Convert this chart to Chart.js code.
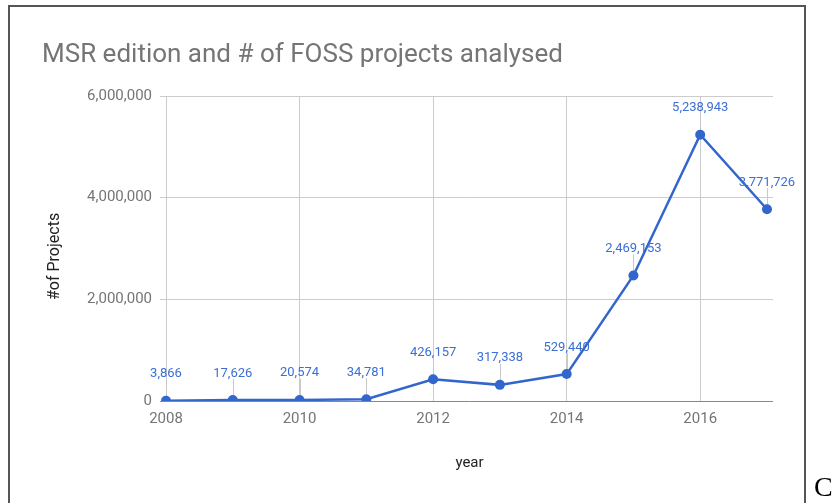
<!DOCTYPE html>
<html><head><meta charset="utf-8">
<script src="https://cdn.jsdelivr.net/npm/chart.js@4"></script>
<style>
html,body{margin:0;padding:0;background:#fff;width:835px;height:503px;overflow:hidden;}
#wrap{position:absolute;left:0;top:0;width:835px;height:503px;}
#frame{position:absolute;left:8px;top:5px;width:798px;height:520px;border:2px solid #555;border-bottom:none;box-sizing:border-box;}
#cl{position:absolute;left:814px;top:473px;font-family:"Liberation Serif",serif;font-size:28px;line-height:28px;color:#000;}
</style></head>
<body>
<div id="frame"></div>
<div id="wrap"><canvas id="chart" width="835" height="503"></canvas></div>
<div id="cl">C</div>
<script>
const years = [2008, 2009, 2010, 2011, 2012, 2013, 2014, 2015, 2016, 2017];
const projects = [3866, 17626, 20574, 34781, 426157, 317338, 529440, 2469153, 5238943, 3771726];
const xTickLabels = [2008, 2010, 2012, 2014, 2016];
const yTickValues = [0, 2000000, 4000000, 6000000];

const fmt = v => String(Math.round(v)).replace(/\B(?=(\d{3})+(?!\d))/g, ',');
const BLUE = '#3366cc';

const labelPlugin = {
  id: 'pointLabels',
  beforeDatasetsDraw(chart) {
    const ctx = chart.ctx;
    const meta = chart.getDatasetMeta(0);
    ctx.save();
    ctx.strokeStyle = '#c8c8c8';
    ctx.lineWidth = 1;
    meta.data.forEach(pt => {
      const x = Math.round(pt.x) + 0.5;
      ctx.beginPath();
      ctx.moveTo(x, pt.y - 4);
      ctx.lineTo(x, pt.y - 21);
      ctx.stroke();
    });
    ctx.restore();
  },
  afterDatasetsDraw(chart) {
    const ctx = chart.ctx;
    const meta = chart.getDatasetMeta(0);
    ctx.save();
    ctx.fillStyle = '#3b6fd4';
    ctx.font = '13px Roboto';
    ctx.textAlign = 'center';
    ctx.textBaseline = 'alphabetic';
    meta.data.forEach((pt, i) => {
      ctx.fillText(fmt(projects[i]), pt.x, pt.y - 23.5);
    });
    ctx.restore();
  }
};

const gridCol = ctx => (ctx.tick && ctx.tick.value === 0) ? '#888888' : '#cccccc';

new Chart(document.getElementById('chart'), {
  type: 'line',
  data: {
    datasets: [{
      data: years.map((y, i) => ({x: y, y: projects[i]})),
      borderColor: BLUE,
      backgroundColor: BLUE,
      borderWidth: 2.5,
      pointRadius: 5,
      pointBorderWidth: 0,
      pointBackgroundColor: BLUE,
      tension: 0,
      fill: false,
      clip: {left: 20, right: 20, top: 20, bottom: 0}
    }]
  },
  options: {
    responsive: false,
    animation: false,
    layout: {padding: {left: 42, right: 62, top: 0, bottom: 20}},
    plugins: {
      legend: {display: false},
      tooltip: {enabled: false},
      title: {
        display: true,
        text: 'MSR edition and # of FOSS projects analysed',
        align: 'start',
        color: '#757575',
        font: {family: 'Roboto', size: 26, weight: 'normal'},
        padding: {top: 39.4, bottom: 25.4}
      }
    },
    scales: {
      x: {
        type: 'linear',
        min: 2008,
        max: 2017.09,
        afterBuildTicks: s => { s.ticks = xTickLabels.map(v => ({value: v})); },
        afterFit: s => { s.height = 82; },
        ticks: {
          callback: v => String(v),
          color: '#757575',
          font: {family: 'Roboto', size: 15},
          padding: 9,
          maxRotation: 0,
          autoSkip: false
        },
        grid: {color: '#cccccc', drawTicks: false, lineWidth: 1},
        border: {display: false},
        title: {
          display: true,
          text: 'year',
          color: '#222222',
          font: {family: 'Roboto', size: 15},
          padding: {top: 0, bottom: 11}
        }
      },
      y: {
        min: 0,
        max: 6000000,
        afterBuildTicks: s => { s.ticks = yTickValues.map(v => ({value: v})); },
        afterFit: s => { s.width = 124; },
        ticks: {
          callback: v => fmt(v),
          color: '#757575',
          font: {family: 'Roboto', size: 15},
          padding: 8
        },
        grid: {color: gridCol, tickColor: gridCol, tickLength: 6, lineWidth: 1},
        border: {display: false},
        title: {
          display: true,
          text: '#of Projects    ',
          color: '#222222',
          font: {family: 'Roboto', size: 16},
          padding: {top: 3, bottom: 0}
        }
      }
    }
  },
  plugins: [labelPlugin]
});
</script>
</body></html>
